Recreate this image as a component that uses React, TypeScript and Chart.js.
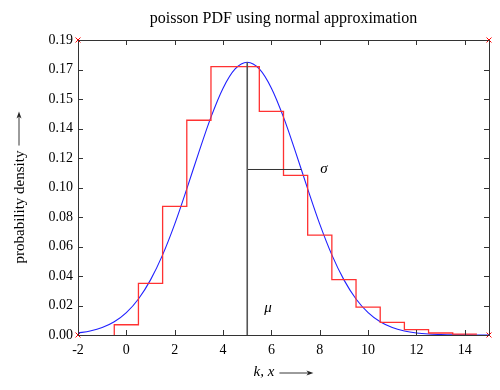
import React, { useEffect, useRef } from "react";
import { Chart, registerables } from "chart.js";

Chart.register(...registerables);

const titleText = "poisson PDF using normal approximation";
const xAxisTitle = "k, x";
const yAxisTitle = "probability density";

const kValues = [0, 1, 2, 3, 4, 5, 6, 7, 8, 9, 10, 11, 12, 13, 14];
const poissonValues = [
  0.0066, 0.0332, 0.0829, 0.1383, 0.1729, 0.1729, 0.144, 0.1028, 0.0643, 0.0357,
  0.0179, 0.0081, 0.0034, 0.0013, 0.0005,
];

const curveX = [
  -2, -1.5, -1, -0.5, 0, 0.5, 1, 1.5, 2, 2.5, 3, 3.5, 4, 4.5, 5, 5.5, 6, 6.5, 7, 7.5,
  8, 8.5, 9, 9.5, 10, 10.5, 11, 11.5, 12, 12.5, 13, 13.5, 14, 14.5, 15,
];
const curveY = [
  0.0013, 0.0026, 0.0048, 0.0085, 0.0144, 0.0232, 0.0355, 0.0516, 0.0714, 0.0941,
  0.1178, 0.1403, 0.159, 0.1714, 0.1757, 0.1714, 0.159, 0.1403, 0.1178, 0.0941,
  0.0714, 0.0516, 0.0355, 0.0232, 0.0144, 0.0085, 0.0048, 0.0026, 0.0013, 0.0006,
  0.0003, 0.0001, 0.00005, 0.00002, 0.00001,
];

const muValue = 5;
const sigmaValue = 2.236;
const peakValue = 0.1757;
const sigmaLevel = 0.1066;

const xMin = -2;
const xMax = 15;
const yMin = 0;
const yMax = 0.19;

const xTickValues = [-2, 0, 2, 4, 6, 8, 10, 12, 14];
const xTickLabels = ["-2", "0", "2", "4", "6", "8", "10", "12", "14"];
const yTickValues = [0, 0.019, 0.038, 0.057, 0.076, 0.095, 0.114, 0.133, 0.152, 0.171, 0.19];
const yTickLabels = ["0.00", "0.02", "0.04", "0.06", "0.08", "0.10", "0.12", "0.14", "0.15", "0.17", "0.19"];

const cornerX = [xMin, xMin, xMax, xMax];
const cornerY = [yMin, yMax, yMax, yMin];

const muLabel = { text: "μ", x: 5.86, y: 0.0174 };
const sigmaLabel = { text: "σ", x: 8.17, y: 0.1067 };

const SERIF = "'Liberation Serif', 'DejaVu Serif', serif";

function drawArrow(ctx: CanvasRenderingContext2D, x1: number, y1: number, x2: number, y2: number) {
  ctx.save();
  ctx.strokeStyle = "#222";
  ctx.fillStyle = "#222";
  ctx.lineWidth = 0.9;
  ctx.beginPath();
  ctx.moveTo(x1, y1);
  ctx.lineTo(x2 - 3, y2);
  ctx.stroke();
  ctx.beginPath();
  ctx.moveTo(x2, y2);
  ctx.lineTo(x2 - 7, y2 - 2.5);
  ctx.lineTo(x2 - 5, y2);
  ctx.lineTo(x2 - 7, y2 + 2.5);
  ctx.closePath();
  ctx.fill();
  ctx.restore();
}

const framePlugin = {
  id: "framePlugin",
  afterDraw(chart: any) {
    const { ctx, chartArea, scales } = chart;
    const xs = scales.x;
    const ys = scales.y;
    const { left, right, top, bottom } = chartArea;
    ctx.save();
    ctx.strokeStyle = "#333";
    ctx.lineWidth = 1;
    ctx.beginPath();
    ctx.rect(left + 0.5, top + 0.5, right - left, bottom - top);
    ctx.stroke();
    const tl = 5;
    ctx.beginPath();
    xTickValues.forEach((v) => {
      const px = Math.round(xs.getPixelForValue(v)) + 0.5;
      ctx.moveTo(px, bottom);
      ctx.lineTo(px, bottom - tl);
      ctx.moveTo(px, top);
      ctx.lineTo(px, top + tl);
    });
    yTickValues.forEach((v) => {
      const py = Math.round(ys.getPixelForValue(v)) + 0.5;
      ctx.moveTo(left, py);
      ctx.lineTo(left + tl, py);
      ctx.moveTo(right, py);
      ctx.lineTo(right - tl, py);
    });
    ctx.stroke();

    // title
    ctx.fillStyle = "#000";
    ctx.font = `16px ${SERIF}`;
    ctx.textAlign = "center";
    ctx.textBaseline = "middle";
    ctx.fillText(titleText, (left + right) / 2, 19);

    // annotations
    ctx.font = `italic 15px ${SERIF}`;
    ctx.fillText(sigmaLabel.text, xs.getPixelForValue(sigmaLabel.x), ys.getPixelForValue(sigmaLabel.y));
    ctx.fillText(muLabel.text, xs.getPixelForValue(muLabel.x), ys.getPixelForValue(muLabel.y));

    // x axis title with arrow
    const arrowLen = 34;
    const gap = 5;
    ctx.font = `italic 15px ${SERIF}`;
    const tw = ctx.measureText(xAxisTitle).width;
    const cx = (left + right) / 2;
    const xy = 372;
    const sx = cx - (tw + gap + arrowLen) / 2;
    ctx.textAlign = "left";
    ctx.fillText(xAxisTitle, sx, xy);
    drawArrow(ctx, sx + tw + gap, xy + 1, sx + tw + gap + arrowLen, xy + 1);

    // y axis title with arrow
    ctx.save();
    const cy = (top + bottom) / 2;
    ctx.translate(20, cy);
    ctx.rotate(-Math.PI / 2);
    ctx.font = `15px ${SERIF}`;
    const tw2 = ctx.measureText(yAxisTitle).width;
    const sy = -(tw2 + gap + arrowLen) / 2;
    ctx.textAlign = "left";
    ctx.textBaseline = "middle";
    ctx.fillText(yAxisTitle, sy, 0);
    drawArrow(ctx, sy + tw2 + gap, -1, sy + tw2 + gap + arrowLen, -1);
    ctx.restore();
    ctx.restore();
  },
};

export default function App() {
  const canvasRef = useRef<HTMLCanvasElement | null>(null);

  useEffect(() => {
    if (!canvasRef.current) return;
    const stepPoints = [{ x: kValues[0] - 0.5, y: 0 }]
      .concat(kValues.map((k, i) => ({ x: k - 0.5, y: poissonValues[i] })))
      .concat([{ x: kValues[kValues.length - 1] + 0.5, y: poissonValues[poissonValues.length - 1] }]);

    const chart = new Chart(canvasRef.current, {
      type: "line",
      data: {
        datasets: [
          {
            label: "mu",
            data: [
              { x: muValue, y: 0 },
              { x: muValue, y: peakValue },
            ],
            borderColor: "#555",
            borderWidth: 1.6,
            pointRadius: 0,
          },
          {
            label: "sigma",
            data: [
              { x: muValue, y: sigmaLevel },
              { x: muValue + sigmaValue, y: sigmaLevel },
            ],
            borderColor: "#333",
            borderWidth: 1,
            pointRadius: 0,
          },
          {
            label: "poisson",
            data: stepPoints,
            stepped: "before",
            borderColor: "rgb(255,50,50)",
            borderWidth: 1.3,
            pointRadius: 0,
          },
          {
            label: "normal",
            data: curveX.map((x, i) => ({ x, y: curveY[i] })),
            borderColor: "#2020ff",
            borderWidth: 1.1,
            pointRadius: 0,
            cubicInterpolationMode: "monotone",
          },
          {
            label: "corners",
            data: cornerX.map((x, i) => ({ x, y: cornerY[i] })),
            showLine: false,
            pointStyle: "crossRot",
            pointRadius: 3.5,
            borderColor: "#ff0000",
            borderWidth: 1,
            clip: false,
          } as any,
        ],
      },
      options: {
        responsive: false,
        animation: false,
        layout: { padding: { left: 0, right: 11, top: 40, bottom: 0 } },
        plugins: {
          legend: { display: false },
          tooltip: { enabled: false },
          title: { display: false },
        },
        scales: {
          x: {
            type: "linear",
            min: xMin,
            max: xMax,
            grid: { display: false, drawTicks: false },
            border: { display: false },
            ticks: {
              color: "#000",
              font: { family: SERIF, size: 14 },
              padding: 7,
              maxRotation: 0,
              autoSkip: false,
              callback: (v: any) => {
                const i = xTickValues.indexOf(Number(v));
                return i >= 0 ? xTickLabels[i] : "";
              },
            },
            afterBuildTicks: (scale: any) => {
              scale.ticks = xTickValues.map((v) => ({ value: v }));
            },
            afterFit: (scale: any) => {
              scale.height = 55;
            },
          },
          y: {
            type: "linear",
            min: yMin,
            max: yMax,
            grid: { display: false, drawTicks: false },
            border: { display: false },
            ticks: {
              color: "#000",
              font: { family: SERIF, size: 14 },
              padding: 5,
              autoSkip: false,
              callback: (v: any) => {
                const i = yTickValues.findIndex((t) => Math.abs(t - Number(v)) < 1e-9);
                return i >= 0 ? yTickLabels[i] : "";
              },
            },
            afterBuildTicks: (scale: any) => {
              scale.ticks = yTickValues.map((v) => ({ value: v }));
            },
            afterFit: (scale: any) => {
              scale.width = 78;
            },
          },
        },
      },
      plugins: [framePlugin],
    });
    return () => chart.destroy();
  }, []);

  return (
    <div style={{ position: "absolute", left: 0, top: 0, width: 500, height: 390, background: "#fff" }}>
      <canvas ref={canvasRef} width={500} height={390} />
    </div>
  );
}
